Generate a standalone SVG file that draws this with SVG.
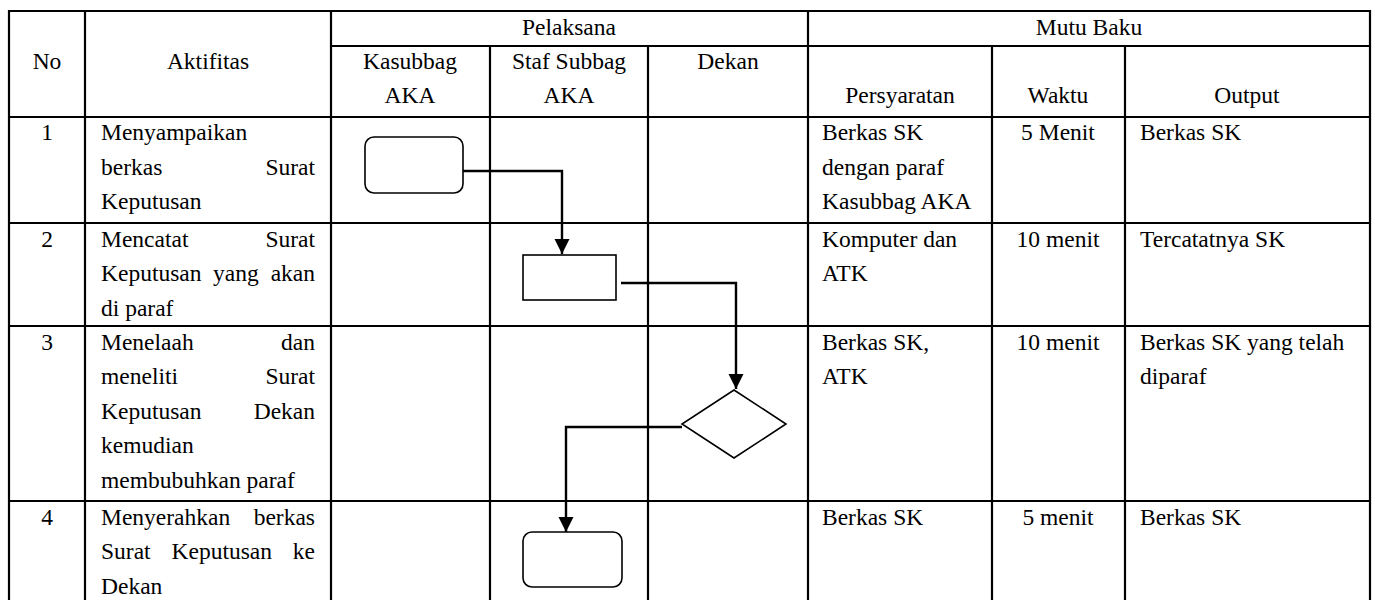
<svg xmlns="http://www.w3.org/2000/svg" width="1375" height="600" viewBox="0 0 1375 600">
  <style>
    text { font-family: "Liberation Serif", "Times New Roman", serif; font-size: 23.5px; fill: #000; }
    .c { text-anchor: middle; }
    .r { text-anchor: end; }
    .grid line { stroke: #000; stroke-width: 2.2; }
    .shape { fill: #fff; stroke: #000; stroke-width: 1.6; }
    .flow { fill: none; stroke: #000; stroke-width: 2.4; }
  </style>
  <defs>
    <marker id="arrow" markerUnits="userSpaceOnUse" markerWidth="16" markerHeight="16" viewBox="0 0 16 16" refX="15" refY="8" orient="auto">
      <path d="M0,0.5 L15,8 L0,15.5 Z" fill="#000"/>
    </marker>
  </defs>
  <rect width="1375" height="600" fill="#fff"/>

  <!-- table grid -->
  <g class="grid">
    <line x1="8" y1="11" x2="1371" y2="11"/>
    <line x1="331" y1="46" x2="1371" y2="46"/>
    <line x1="8" y1="117" x2="1371" y2="117"/>
    <line x1="8" y1="223" x2="1371" y2="223"/>
    <line x1="8" y1="326" x2="1371" y2="326"/>
    <line x1="8" y1="501" x2="1371" y2="501"/>
    <line x1="9" y1="10" x2="9" y2="600"/>
    <line x1="85" y1="11" x2="85" y2="600"/>
    <line x1="331" y1="11" x2="331" y2="600"/>
    <line x1="490" y1="46" x2="490" y2="600"/>
    <line x1="648" y1="46" x2="648" y2="600"/>
    <line x1="808" y1="11" x2="808" y2="600"/>
    <line x1="992" y1="46" x2="992" y2="600"/>
    <line x1="1125" y1="46" x2="1125" y2="600"/>
    <line x1="1370" y1="10" x2="1370" y2="600"/>
  </g>

  <!-- header -->
  <g id="header">
    <text class="c" x="569" y="35">Pelaksana</text>
    <text class="c" x="1089" y="35">Mutu Baku</text>
    <text class="c" x="47" y="69">No</text>
    <text class="c" x="208" y="69">Aktifitas</text>
    <text class="c" x="410" y="69">Kasubbag</text>
    <text class="c" x="410" y="103">AKA</text>
    <text class="c" x="569" y="69">Staf Subbag</text>
    <text class="c" x="569" y="103">AKA</text>
    <text class="c" x="728" y="69">Dekan</text>
    <text class="c" x="900" y="103">Persyaratan</text>
    <text class="c" x="1058" y="103">Waktu</text>
    <text class="c" x="1247" y="103">Output</text>
  </g>

  <!-- row 1 -->
  <g id="row1">
    <text class="c" x="47" y="140">1</text>
    <text x="101" y="140">Menyampaikan</text>
    <text x="101" y="174.5">berkas</text>
    <text class="r" x="315" y="174.5">Surat</text>
    <text x="101" y="209">Keputusan</text>
    <text x="822" y="140">Berkas SK</text>
    <text x="822" y="174.5">dengan paraf</text>
    <text x="822" y="209">Kasubbag AKA</text>
    <text class="c" x="1058" y="140">5 Menit</text>
    <text x="1140" y="140">Berkas SK</text>
  </g>

  <!-- row 2 -->
  <g id="row2">
    <text class="c" x="47" y="246.5">2</text>
    <text x="101" y="246.5">Mencatat</text>
    <text class="r" x="315" y="246.5">Surat</text>
    <text x="101" y="281">Keputusan</text>
    <text x="213" y="281">yang</text>
    <text class="r" x="315" y="281">akan</text>
    <text x="101" y="315.5">di paraf</text>
    <text x="822" y="246.5">Komputer dan</text>
    <text x="822" y="281">ATK</text>
    <text class="c" x="1058" y="246.5">10 menit</text>
    <text x="1140" y="246.5">Tercatatnya SK</text>
  </g>

  <!-- row 3 -->
  <g id="row3">
    <text class="c" x="47" y="349.5">3</text>
    <text x="101" y="349.5">Menelaah</text>
    <text class="r" x="315" y="349.5">dan</text>
    <text x="101" y="384">meneliti</text>
    <text class="r" x="315" y="384">Surat</text>
    <text x="101" y="418.5">Keputusan</text>
    <text class="r" x="315" y="418.5">Dekan</text>
    <text x="101" y="453">kemudian</text>
    <text x="101" y="487.5">membubuhkan paraf</text>
    <text x="822" y="349.5">Berkas SK,</text>
    <text x="822" y="384">ATK</text>
    <text class="c" x="1058" y="349.5">10 menit</text>
    <text x="1140" y="349.5">Berkas SK yang telah</text>
    <text x="1140" y="384">diparaf</text>
  </g>

  <!-- row 4 -->
  <g id="row4">
    <text class="c" x="47" y="524.5">4</text>
    <text x="101" y="524.5">Menyerahkan</text>
    <text class="r" x="315" y="524.5">berkas</text>
    <text x="101" y="559">Surat</text>
    <text x="171.5" y="559">Keputusan</text>
    <text class="r" x="315" y="559">ke</text>
    <text x="101" y="593.5">Dekan</text>
    <text class="c" x="1058" y="524.5">5 menit</text>
    <text x="822" y="524.5">Berkas SK</text>
    <text x="1140" y="524.5">Berkas SK</text>
  </g>

  <!-- flow connectors -->
  <g id="connectors">
    <path class="flow" d="M463,171 H562 V254" marker-end="url(#arrow)"/>
    <path class="flow" d="M621,283 H736 V389" marker-end="url(#arrow)"/>
    <path class="flow" d="M682,427 H566 V532" marker-end="url(#arrow)"/>
  </g>

  <!-- flow nodes -->
  <g id="node-start">
    <rect class="shape" x="365" y="137" width="98" height="56" rx="9"/>
  </g>
  <g id="node-record">
    <rect class="shape" x="523" y="255" width="93" height="45"/>
  </g>
  <g id="node-review">
    <polygon class="shape" points="734,390 786,424 734,458 682,424"/>
  </g>
  <g id="node-handover">
    <rect class="shape" x="523" y="532" width="99" height="55" rx="9"/>
  </g>
</svg>
